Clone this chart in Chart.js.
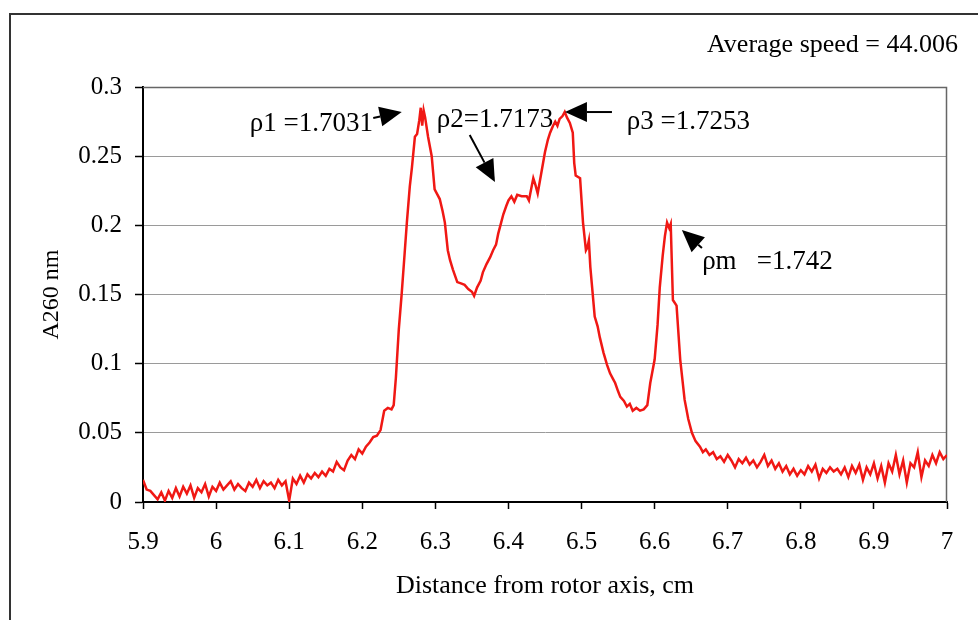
<!DOCTYPE html>
<html>
<head>
<meta charset="utf-8">
<script src="https://cdn.jsdelivr.net/npm/chart.js@4.4.0/dist/chart.umd.min.js"></script>
<style>
  body { margin: 0; background: #ffffff; }
  #wrap { position: relative; width: 978px; height: 620px; }
</style>
</head>
<body>
<div id="wrap"><canvas id="chart-profile" width="978" height="620"></canvas></div>
<script>
// Distancia desde el eje del rotor (cm)
const distance = [
  5.900, 5.905, 5.910, 5.915, 5.920, 5.925, 5.930, 5.935, 5.940, 5.945,
  5.950, 5.955, 5.960, 5.965, 5.970, 5.975, 5.980, 5.985, 5.990, 5.995,
  6.000, 6.005, 6.010, 6.015, 6.020, 6.025, 6.030, 6.035, 6.040, 6.045,
  6.050, 6.055, 6.060, 6.065, 6.070, 6.075, 6.080, 6.085, 6.090, 6.095,
  6.100, 6.105, 6.110, 6.115, 6.120, 6.125, 6.130, 6.135, 6.140, 6.145,
  6.150, 6.155, 6.160, 6.165, 6.170, 6.175, 6.180, 6.185, 6.190, 6.195,
  6.200, 6.205, 6.210, 6.215, 6.220, 6.225, 6.230, 6.235, 6.240, 6.243,
  6.246, 6.250, 6.254, 6.258, 6.261, 6.265, 6.268, 6.272, 6.275, 6.278,
  6.280, 6.282, 6.284, 6.286, 6.290, 6.295, 6.299, 6.303, 6.306, 6.310,
  6.313, 6.317, 6.320, 6.324, 6.330, 6.335, 6.340, 6.345, 6.350, 6.353,
  6.357, 6.362, 6.365, 6.370, 6.375, 6.379, 6.383, 6.386, 6.390, 6.393,
  6.397, 6.400, 6.404, 6.408, 6.412, 6.418, 6.425, 6.428, 6.431, 6.434,
  6.437, 6.440, 6.445, 6.450, 6.454, 6.457, 6.461, 6.464, 6.467, 6.470,
  6.474, 6.477, 6.480, 6.484, 6.488, 6.490, 6.492, 6.498, 6.502, 6.506,
  6.508, 6.510, 6.512, 6.514, 6.518, 6.522, 6.525, 6.530, 6.535, 6.539,
  6.543, 6.546, 6.550, 6.553, 6.558, 6.562, 6.566, 6.570, 6.575, 6.580,
  6.585, 6.590, 6.594, 6.600, 6.604, 6.607, 6.611, 6.614, 6.617, 6.620,
  6.622, 6.625, 6.630, 6.635, 6.641, 6.646, 6.651, 6.656, 6.662, 6.666,
  6.670, 6.675, 6.680, 6.685, 6.690, 6.695, 6.700, 6.705, 6.710, 6.715,
  6.720, 6.725, 6.730, 6.735, 6.740, 6.745, 6.750, 6.755, 6.760, 6.765,
  6.770, 6.775, 6.780, 6.785, 6.790, 6.795, 6.800, 6.805, 6.810, 6.815,
  6.820, 6.825, 6.830, 6.835, 6.840, 6.845, 6.850, 6.855, 6.860, 6.865,
  6.870, 6.875, 6.880, 6.885, 6.890, 6.895, 6.900, 6.905, 6.910, 6.915,
  6.920, 6.925, 6.930, 6.935, 6.940, 6.945, 6.950, 6.955, 6.960, 6.965,
  6.970, 6.975, 6.980, 6.985, 6.990, 6.995, 7.000
];

// Absorbancia a 260 nm
const absorbance = [
  0.016, 0.009, 0.008, 0.005, 0.002, 0.007, 0.001, 0.008, 0.003, 0.010,
  0.004, 0.011, 0.006, 0.012, 0.003, 0.010, 0.007, 0.013, 0.004, 0.011,
  0.008, 0.014, 0.009, 0.012, 0.015, 0.009, 0.013, 0.010, 0.008, 0.014,
  0.011, 0.016, 0.010, 0.015, 0.012, 0.014, 0.010, 0.016, 0.012, 0.015,
  0.001, 0.017, 0.013, 0.019, 0.014, 0.020, 0.017, 0.021, 0.018, 0.022,
  0.019, 0.024, 0.022, 0.029, 0.025, 0.023, 0.030, 0.034, 0.031, 0.038,
  0.035, 0.040, 0.043, 0.047, 0.048, 0.052, 0.066, 0.068, 0.067, 0.070,
  0.090, 0.125, 0.151, 0.180, 0.202, 0.228, 0.242, 0.264, 0.266, 0.276,
  0.285, 0.272, 0.283, 0.278, 0.264, 0.250, 0.226, 0.222, 0.219, 0.210,
  0.202, 0.182, 0.175, 0.168, 0.159, 0.158, 0.157, 0.154, 0.152, 0.149,
  0.155, 0.160, 0.166, 0.172, 0.177, 0.182, 0.186, 0.194, 0.202, 0.208,
  0.214, 0.218, 0.221, 0.217, 0.222, 0.221, 0.221, 0.218, 0.226, 0.234,
  0.229, 0.223, 0.238, 0.253, 0.262, 0.267, 0.272, 0.275, 0.272, 0.277,
  0.279, 0.282, 0.278, 0.274, 0.267, 0.245, 0.236, 0.234, 0.202, 0.182,
  0.184, 0.189, 0.170, 0.158, 0.134, 0.127, 0.119, 0.108, 0.099, 0.093,
  0.089, 0.086, 0.080, 0.076, 0.073, 0.069, 0.071, 0.066, 0.068, 0.066,
  0.067, 0.070, 0.086, 0.103, 0.128, 0.155, 0.178, 0.192, 0.202, 0.198,
  0.201, 0.146, 0.142, 0.103, 0.074, 0.060, 0.050, 0.044, 0.040, 0.036,
  0.038, 0.034, 0.036, 0.031, 0.033, 0.029, 0.034, 0.030, 0.025, 0.031,
  0.028, 0.032, 0.027, 0.030, 0.025, 0.029, 0.034, 0.026, 0.030, 0.024,
  0.028, 0.022, 0.026, 0.020, 0.024, 0.019, 0.023, 0.020, 0.026, 0.022,
  0.027, 0.017, 0.024, 0.021, 0.025, 0.022, 0.024, 0.020, 0.025, 0.018,
  0.026, 0.021, 0.027, 0.016, 0.025, 0.020, 0.028, 0.017, 0.026, 0.014,
  0.028, 0.022, 0.034, 0.020, 0.030, 0.014, 0.028, 0.025, 0.036, 0.018,
  0.030, 0.026, 0.034, 0.028, 0.036, 0.031, 0.034
];

// Etiquetas de los ejes
const xTickValues = [5.9, 6.0, 6.1, 6.2, 6.3, 6.4, 6.5, 6.6, 6.7, 6.8, 6.9, 7.0];
const xTickLabels = ['5.9', '6', '6.1', '6.2', '6.3', '6.4', '6.5', '6.6', '6.7', '6.8', '6.9', '7'];
const yTickValues = [0, 0.05, 0.1, 0.15, 0.2, 0.25, 0.3];
const yTickLabels = ['0', '0.05', '0.1', '0.15', '0.2', '0.25', '0.3'];

// Anotaciones de densidad (texto en coordenadas de datos)
const noteTexts = ['\u03c11 =1.7031', '\u03c12=1.7173', '\u03c13 =1.7253', '\u03c1m   =1.742'];
const noteX = [6.046, 6.302, 6.562, 6.665];
const noteY = [0.2733, 0.2761, 0.2747, 0.1735];
// Flechas: cola -> punta
const arrowFrom = [[6.215, 0.2776], [6.347, 0.2653], [6.5416, 0.2819], [6.6647, 0.1836]];
const arrowTo = [[6.254, 0.2819], [6.3815, 0.2313], [6.4773, 0.2819], [6.6373, 0.1966]];

const speedText = 'Average speed = 44.006';
const FONT = '"Liberation Serif", "Times New Roman", serif';

function drawArrow(ctx, x1, y1, x2, y2, headLen, headHalf) {
    const ang = Math.atan2(y2 - y1, x2 - x1);
    const bx = x2 - headLen * Math.cos(ang);
    const by = y2 - headLen * Math.sin(ang);
    ctx.beginPath();
    ctx.moveTo(x1, y1);
    ctx.lineTo(bx, by);
    ctx.stroke();
    ctx.beginPath();
    ctx.moveTo(x2, y2);
    ctx.lineTo(bx + headHalf * Math.sin(ang), by - headHalf * Math.cos(ang));
    ctx.lineTo(bx - headHalf * Math.sin(ang), by + headHalf * Math.cos(ang));
    ctx.closePath();
    ctx.fill();
}

const decorations = {
    id: 'decorations',
    beforeDraw(chart) {
        const ctx = chart.ctx;
        ctx.save();
        ctx.fillStyle = '#ffffff';
        ctx.fillRect(0, 0, chart.width, chart.height);
        // marco exterior
        ctx.strokeStyle = '#333333';
        ctx.lineWidth = 2;
        ctx.beginPath();
        ctx.moveTo(10, chart.height);
        ctx.lineTo(10, 14);
        ctx.lineTo(chart.width, 14);
        ctx.stroke();
        ctx.restore();
    },
    beforeDatasetsDraw(chart) {
        const ctx = chart.ctx;
        const a = chart.chartArea;
        ctx.save();
        ctx.strokeStyle = '#666666';
        ctx.lineWidth = 1.5;
        ctx.beginPath();
        ctx.moveTo(a.left, a.top + 0.5);
        ctx.lineTo(a.right - 0.5, a.top + 0.5);
        ctx.lineTo(a.right - 0.5, a.bottom);
        ctx.stroke();
        ctx.restore();
    },
    afterDraw(chart) {
        const ctx = chart.ctx;
        const xs = chart.scales.x;
        const ys = chart.scales.y;
        ctx.save();
        ctx.fillStyle = '#000000';
        ctx.strokeStyle = '#000000';
        ctx.font = '27px ' + FONT;
        ctx.textBaseline = 'middle';
        ctx.textAlign = 'left';
        noteTexts.forEach((t, i) => {
            ctx.fillText(t, xs.getPixelForValue(noteX[i]), ys.getPixelForValue(noteY[i]));
        });
        ctx.lineWidth = 2;
        arrowFrom.forEach((p, i) => {
            const q = arrowTo[i];
            drawArrow(ctx,
                xs.getPixelForValue(p[0]), ys.getPixelForValue(p[1]),
                xs.getPixelForValue(q[0]), ys.getPixelForValue(q[1]), 22, 10);
        });
        ctx.font = '26px ' + FONT;
        ctx.textAlign = 'right';
        ctx.fillText(speedText, 958, 45);
        ctx.restore();
    }
};

const ctx = document.getElementById('chart-profile');
new Chart(ctx, {
    type: 'scatter',
    data: {
        datasets: [{
            data: distance.map((d, i) => ({ x: d, y: absorbance[i] })),
            showLine: true,
            borderColor: 'rgb(240, 24, 20)',
            borderWidth: 2.5,
            pointRadius: 0,
            tension: 0
        }]
    },
    options: {
        responsive: false,
        animation: false,
        layout: { padding: { left: 0, right: 31, top: 87, bottom: 0 } },
        plugins: {
            legend: { display: false },
            tooltip: { enabled: false }
        },
        scales: {
            x: {
                type: 'linear',
                min: 5.9,
                max: 7.0,
                afterBuildTicks: scale => { scale.ticks = xTickValues.map(v => ({ value: v })); },
                afterFit: scale => { scale.height = 118; },
                grid: { drawOnChartArea: false, tickLength: 7, tickColor: '#000000', tickWidth: 1.5 },
                border: { color: '#000000', width: 2 },
                ticks: {
                    color: '#000000',
                    padding: 18,
                    maxRotation: 0,
                    autoSkip: false,
                    font: { family: FONT, size: 25 },
                    callback: (v, i) => xTickLabels[i]
                },
                title: {
                    display: true,
                    text: 'Distance from rotor axis, cm',
                    color: '#000000',
                    font: { family: FONT, size: 26 },
                    padding: { top: 0, bottom: 18 }
                }
            },
            y: {
                min: 0,
                max: 0.3,
                afterBuildTicks: scale => { scale.ticks = yTickValues.map(v => ({ value: v })); },
                afterFit: scale => { scale.width = 143; },
                grid: { color: '#9a9a9a', lineWidth: 1, tickLength: 8, tickColor: '#000000', tickWidth: 1.5 },
                border: { color: '#000000', width: 2 },
                ticks: {
                    color: '#000000',
                    padding: 13,
                    autoSkip: false,
                    font: { family: FONT, size: 25 },
                    callback: (v, i) => yTickLabels[i]
                },
                title: {
                    display: true,
                    text: 'A260 nm',
                    color: '#000000',
                    font: { family: FONT, size: 24 },
                    padding: { top: 37, bottom: 0 }
                }
            }
        }
    },
    plugins: [decorations]
});
</script>
</body>
</html>
